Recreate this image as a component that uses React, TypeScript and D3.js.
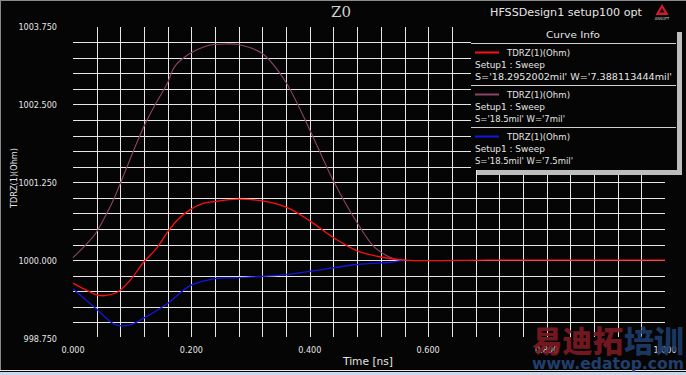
import React from "react";
import * as d3 from "d3";

// ---- data (time in ns, impedance in Ohm) ----
const redT = [0, 0.024, 0.046, 0.074, 0.096, 0.118, 0.142, 0.159, 0.176, 0.198, 0.22, 0.238, 0.28, 0.32, 0.36, 0.4, 0.44, 0.48, 0.52, 0.56, 0.7, 0.85, 1.0];
const redV = [999.63, 999.51, 999.43, 999.48, 999.67, 999.95, 1000.2, 1000.44, 1000.64, 1000.81, 1000.91, 1000.94, 1000.98, 1000.95, 1000.85, 1000.63, 1000.36, 1000.15, 1000.05, 1000.0, 1000.0, 1000.0, 1000.0];

const purpleT = [0, 0.024, 0.039, 0.057, 0.068, 0.118, 0.139, 0.159, 0.172, 0.198, 0.223, 0.238, 0.258, 0.279, 0.319, 0.358, 0.399, 0.44, 0.48, 0.51, 0.54, 0.56];
const purpleV = [1000.04, 1000.27, 1000.44, 1000.75, 1000.96, 1002.11, 1002.5, 1002.83, 1003.11, 1003.32, 1003.43, 1003.46, 1003.47, 1003.46, 1003.32, 1002.88, 1002.11, 1001.27, 1000.6, 1000.2, 1000.03, 1000.0];

const blueT = [0, 0.039, 0.072, 0.096, 0.118, 0.159, 0.198, 0.238, 0.279, 0.35, 0.4, 0.48, 0.54, 0.56];
const blueV = [999.54, 999.22, 998.96, 998.96, 999.06, 999.3, 999.59, 999.7, 999.72, 999.76, 999.82, 999.93, 999.97, 1000.0];

const xTickLabels = ["0.000", "0.200", "0.400", "0.600", "0.800", "1.000"];
const xTickValues = [0, 0.2, 0.4, 0.6, 0.8, 1.0];
const yTickLabels = ["998.750", "1000.000", "1001.250", "1002.500", "1003.750"];
const yTickValues = [998.75, 1000, 1001.25, 1002.5, 1003.75];

const legendNames = ["TDRZ(1)(Ohm)", "TDRZ(1)(Ohm)", "TDRZ(1)(Ohm)"];
const legendSetup = ["Setup1 : Sweep", "Setup1 : Sweep", "Setup1 : Sweep"];
const legendParams = ["S='18.2952002mil' W='7.388113444mil'", "S='18.5mil' W='7mil'", "S='18.5mil' W='7.5mil'"];
const legendParamWidths = [197, 90, 98];
const seriesColors = ["#ff1010", "#8e4466", "#1414e6"];

const W = 686;
const H = 375;
const FONT = "'DejaVu Sans Condensed', 'Liberation Sans Narrow', 'DejaVu Sans', sans-serif";

export default function App() {
  const x = d3.scaleLinear().domain([0, 1]).range([73, 665]);
  const y = d3.scaleLinear().domain([998.75, 1003.75]).range([338, 26.5]);

  const line = d3
    .line<[number, number]>()
    .x((d) => x(d[0]))
    .y((d) => y(d[1]))
    .curve(d3.curveCatmullRom.alpha(0.5));

  const zip = (t: number[], v: number[]) => t.map((tt, i) => [tt, v[i]] as [number, number]);

  const vGrid = d3.range(1, 25).map((k) => k * 0.04);
  const hGrid = d3.range(1, 20).map((k) => 998.75 + k * 0.25);

  const legendX = 471;
  const legendR = 676;
  const entryTop = [43, 85, 127];

  return (
    <div style={{ position: "fixed", left: 0, top: 0, width: W, height: H }}>
      <style>{"body{margin:0}"}</style>
      <svg width={W} height={H} style={{ display: "block" }}>
        <rect x={0} y={0} width={W} height={H} fill="#050505" />
        {/* frame */}
        <line x1={0} x2={W} y1={0.5} y2={0.5} stroke="#8a8a8a" />
        <line x1={0.5} x2={0.5} y1={0} y2={371} stroke="#8a8a8a" />
        <line x1={0} x2={W} y1={370.5} y2={370.5} stroke="#e8e8e8" />
        <rect x={0} y={372} width={W} height={3} fill="#c9d9ee" />

        {/* grid */}
        {vGrid.map((t, i) => (
          <line key={"v" + i} x1={Math.round(x(t)) + 0.5} x2={Math.round(x(t)) + 0.5} y1={27} y2={337} stroke="#e6e6e6" strokeWidth={1} />
        ))}
        {hGrid.map((v, i) => (
          <line key={"h" + i} x1={73} x2={665} y1={Math.round(y(v)) + 0.5} y2={Math.round(y(v)) + 0.5} stroke="#e6e6e6" strokeWidth={1} />
        ))}

        {/* curves */}
        <path d={line(zip(purpleT, purpleV)) || ""} fill="none" stroke={seriesColors[1]} strokeWidth={1.1} />
        <path d={line(zip(blueT, blueV)) || ""} fill="none" stroke={seriesColors[2]} strokeWidth={1.3} />
        <path d={line(zip(redT, redV)) || ""} fill="none" stroke={seriesColors[0]} strokeWidth={1.3} />

        {/* y tick labels */}
        {yTickValues.map((v, i) => (
          <text key={"yl" + i} x={57} y={y(v) + 3.5} textAnchor="end" fontFamily={FONT} fontSize={9} fill="#e4e4e4">
            {yTickLabels[i]}
          </text>
        ))}
        {/* x tick labels */}
        {xTickValues.map((t, i) => (
          <text key={"xl" + i} x={x(t)} y={352.5} textAnchor="middle" fontFamily={FONT} fontSize={9} fill="#e4e4e4">
            {xTickLabels[i]}
          </text>
        ))}
        <text x={368} y={364.5} textAnchor="middle" fontFamily={FONT} fontSize={10} fill="#e4e4e4" textLength={50} lengthAdjust="spacingAndGlyphs">
          Time [ns]
        </text>
        <text transform="translate(16.5,178) rotate(-90)" textAnchor="middle" fontFamily={FONT} fontSize={9.5} fill="#e4e4e4" textLength={60} lengthAdjust="spacingAndGlyphs">
          TDRZ(1)(Ohm)
        </text>

        {/* titles */}
        <text x={341} y={17} textAnchor="middle" fontFamily="'DejaVu Serif', serif" fontSize={15} fill="#d0d0d0">
          Z0
        </text>
        <text x={566} y={16} textAnchor="middle" fontFamily={FONT} fontSize={10.5} fill="#e4e4e4" textLength={152} lengthAdjust="spacingAndGlyphs">
          HFSSDesign1 setup100 opt
        </text>
        {/* logo */}
        <g>
          <path d="M662,4 L668.5,15 L655.5,15 Z" fill="#d41a2a" />
          <path d="M662,8 L664.5,12.5 L659.5,12.5 Z" fill="#050505" />
          <text x={662} y={20} textAnchor="middle" fontFamily={FONT} fontSize={4} fill="#d0d0d0">
            ANSOFT
          </text>
        </g>

        {/* legend */}
        <rect x={677} y={32} width={5} height={143} fill="#bdbdbd" />
        <rect x={477} y={170} width={200} height={5} fill="#bdbdbd" />
        <rect x={legendX} y={26} width={legendR - legendX} height={144} fill="#050505" />
        <text x={573} y={38} textAnchor="middle" fontFamily={FONT} fontSize={9} fill="#e4e4e4" textLength={54} lengthAdjust="spacingAndGlyphs">
          Curve Info
        </text>
        {entryTop.map((top, i) => (
          <g key={"lg" + i}>
            <line x1={legendX} x2={legendR} y1={top + 0.5} y2={top + 0.5} stroke="#cfcfcf" />
            <line x1={475} x2={499} y1={top + 9.5} y2={top + 9.5} stroke={seriesColors[i]} strokeWidth={2} />
            <text x={507} y={top + 13} fontFamily={FONT} fontSize={9} fill="#e4e4e4" textLength={63} lengthAdjust="spacingAndGlyphs">
              {legendNames[i]}
            </text>
            <text x={475} y={top + 25} fontFamily={FONT} fontSize={9} fill="#e4e4e4" textLength={70} lengthAdjust="spacingAndGlyphs">
              {legendSetup[i]}
            </text>
            <text x={475} y={top + 37} fontFamily={FONT} fontSize={9} fill="#e4e4e4" textLength={legendParamWidths[i]} lengthAdjust="spacingAndGlyphs">
              {legendParams[i]}
            </text>
          </g>
        ))}

        {/* watermark */}
        <g opacity={0.9}>
          <text x={532} y={352} fontFamily="'Noto Sans CJK SC', sans-serif" fontWeight={900} fontSize={30} fill="#7d1a22" textLength={91} lengthAdjust="spacingAndGlyphs">
            易迪拓
          </text>
          <text x={624} y={352} fontFamily="'Noto Sans CJK SC', sans-serif" fontWeight={900} fontSize={30} fill="#1e3c6c" textLength={60} lengthAdjust="spacingAndGlyphs">
            培训
          </text>
          <text x={532} y={369} fontFamily="'DejaVu Sans', sans-serif" fontWeight={700} fontSize={16} fill="#24457a" textLength={152} lengthAdjust="spacingAndGlyphs">
            www.edatop.com
          </text>
        </g>
      </svg>
    </div>
  );
}
